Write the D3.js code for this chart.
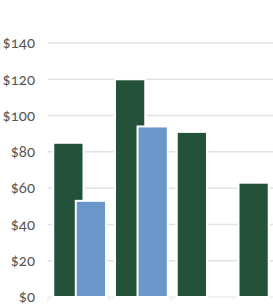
<!DOCTYPE html>
<html>
<head>
<meta charset="utf-8">
<script src="https://cdn.jsdelivr.net/npm/d3@7"></script>
<style>
  body { margin: 0; background: #fff; }
  .y-axis .tick text { font-family: Lato, "Open Sans", sans-serif; font-size: 15px; fill: #555; font-variant-numeric: oldstyle-nums; font-feature-settings: "onum"; }
</style>
</head>
<body>
<div id="chart"></div>
<script>
var categories = ["Q1", "Q2", "Q3", "Q4"];
var seriesA = [85, 120, 91, 63];     // dark green
var seriesB = [53, 94, null, null];  // blue
var yTicks = [0, 20, 40, 60, 80, 100, 120, 140];

var width = 273, height = 307;

var svg = d3.select("#chart").append("svg")
    .attr("width", width)
    .attr("height", height);

var x = d3.scaleBand()
    .domain(categories)
    .range([48, 295]);

var y = d3.scaleLinear()
    .domain([0, 140])
    .range([297, 43]);

var bw = x.bandwidth();

// gridlines
svg.append("g")
    .selectAll("line")
    .data(yTicks.slice(1))
  .enter().append("line")
    .attr("x1", 48)
    .attr("x2", width)
    .attr("y1", function(d) { return y(d); })
    .attr("y2", function(d) { return y(d); })
    .style("stroke", "#e2e2e2")
    .style("stroke-width", 1.5);

// y axis labels
var yAxis = svg.append("g")
    .attr("class", "y-axis")
    .attr("transform", "translate(48,0)")
    .call(d3.axisLeft(y).tickValues(yTicks).tickSize(0).tickPadding(13)
      .tickFormat(function(d) { return "$" + d; }));
yAxis.select(".domain").remove();

// x axis baseline + band ticks (labels fall below the visible area)
var xAxis = svg.append("g")
    .attr("transform", "translate(0," + y(0) + ")");
xAxis.append("line")
    .attr("x1", 48)
    .attr("x2", width)
    .style("stroke", "#e6e6e6");
xAxis.selectAll(".bound")
    .data(categories)
  .enter().append("line")
    .attr("class", "bound")
    .attr("x1", function(d) { return x(d); })
    .attr("x2", function(d) { return x(d); })
    .attr("y1", 0)
    .attr("y2", 4)
    .style("stroke", "#e6e6e6");

// dark bars
svg.append("g")
    .selectAll("rect")
    .data(categories)
  .enter().append("rect")
    .attr("x", function(d) { return x(d) + bw * 0.085; })
    .attr("width", bw * 0.49)
    .attr("y", function(d, i) { return y(seriesA[i]); })
    .attr("height", function(d, i) { return y(0) - y(seriesA[i]); })
    .style("fill", "#24513a")
    .style("stroke", "#fff")
    .style("stroke-width", 2);

// blue bars, overlapping
svg.append("g")
    .selectAll("rect")
    .data(categories.filter(function(d, i) { return seriesB[i] != null; }))
  .enter().append("rect")
    .attr("x", function(d) { return x(d) + bw * 0.45; })
    .attr("width", bw * 0.49)
    .attr("y", function(d) { return y(seriesB[categories.indexOf(d)]); })
    .attr("height", function(d) { return y(0) - y(seriesB[categories.indexOf(d)]); })
    .style("fill", "#6a96c9")
    .style("stroke", "#fff")
    .style("stroke-width", 2);
</script>
</body>
</html>
